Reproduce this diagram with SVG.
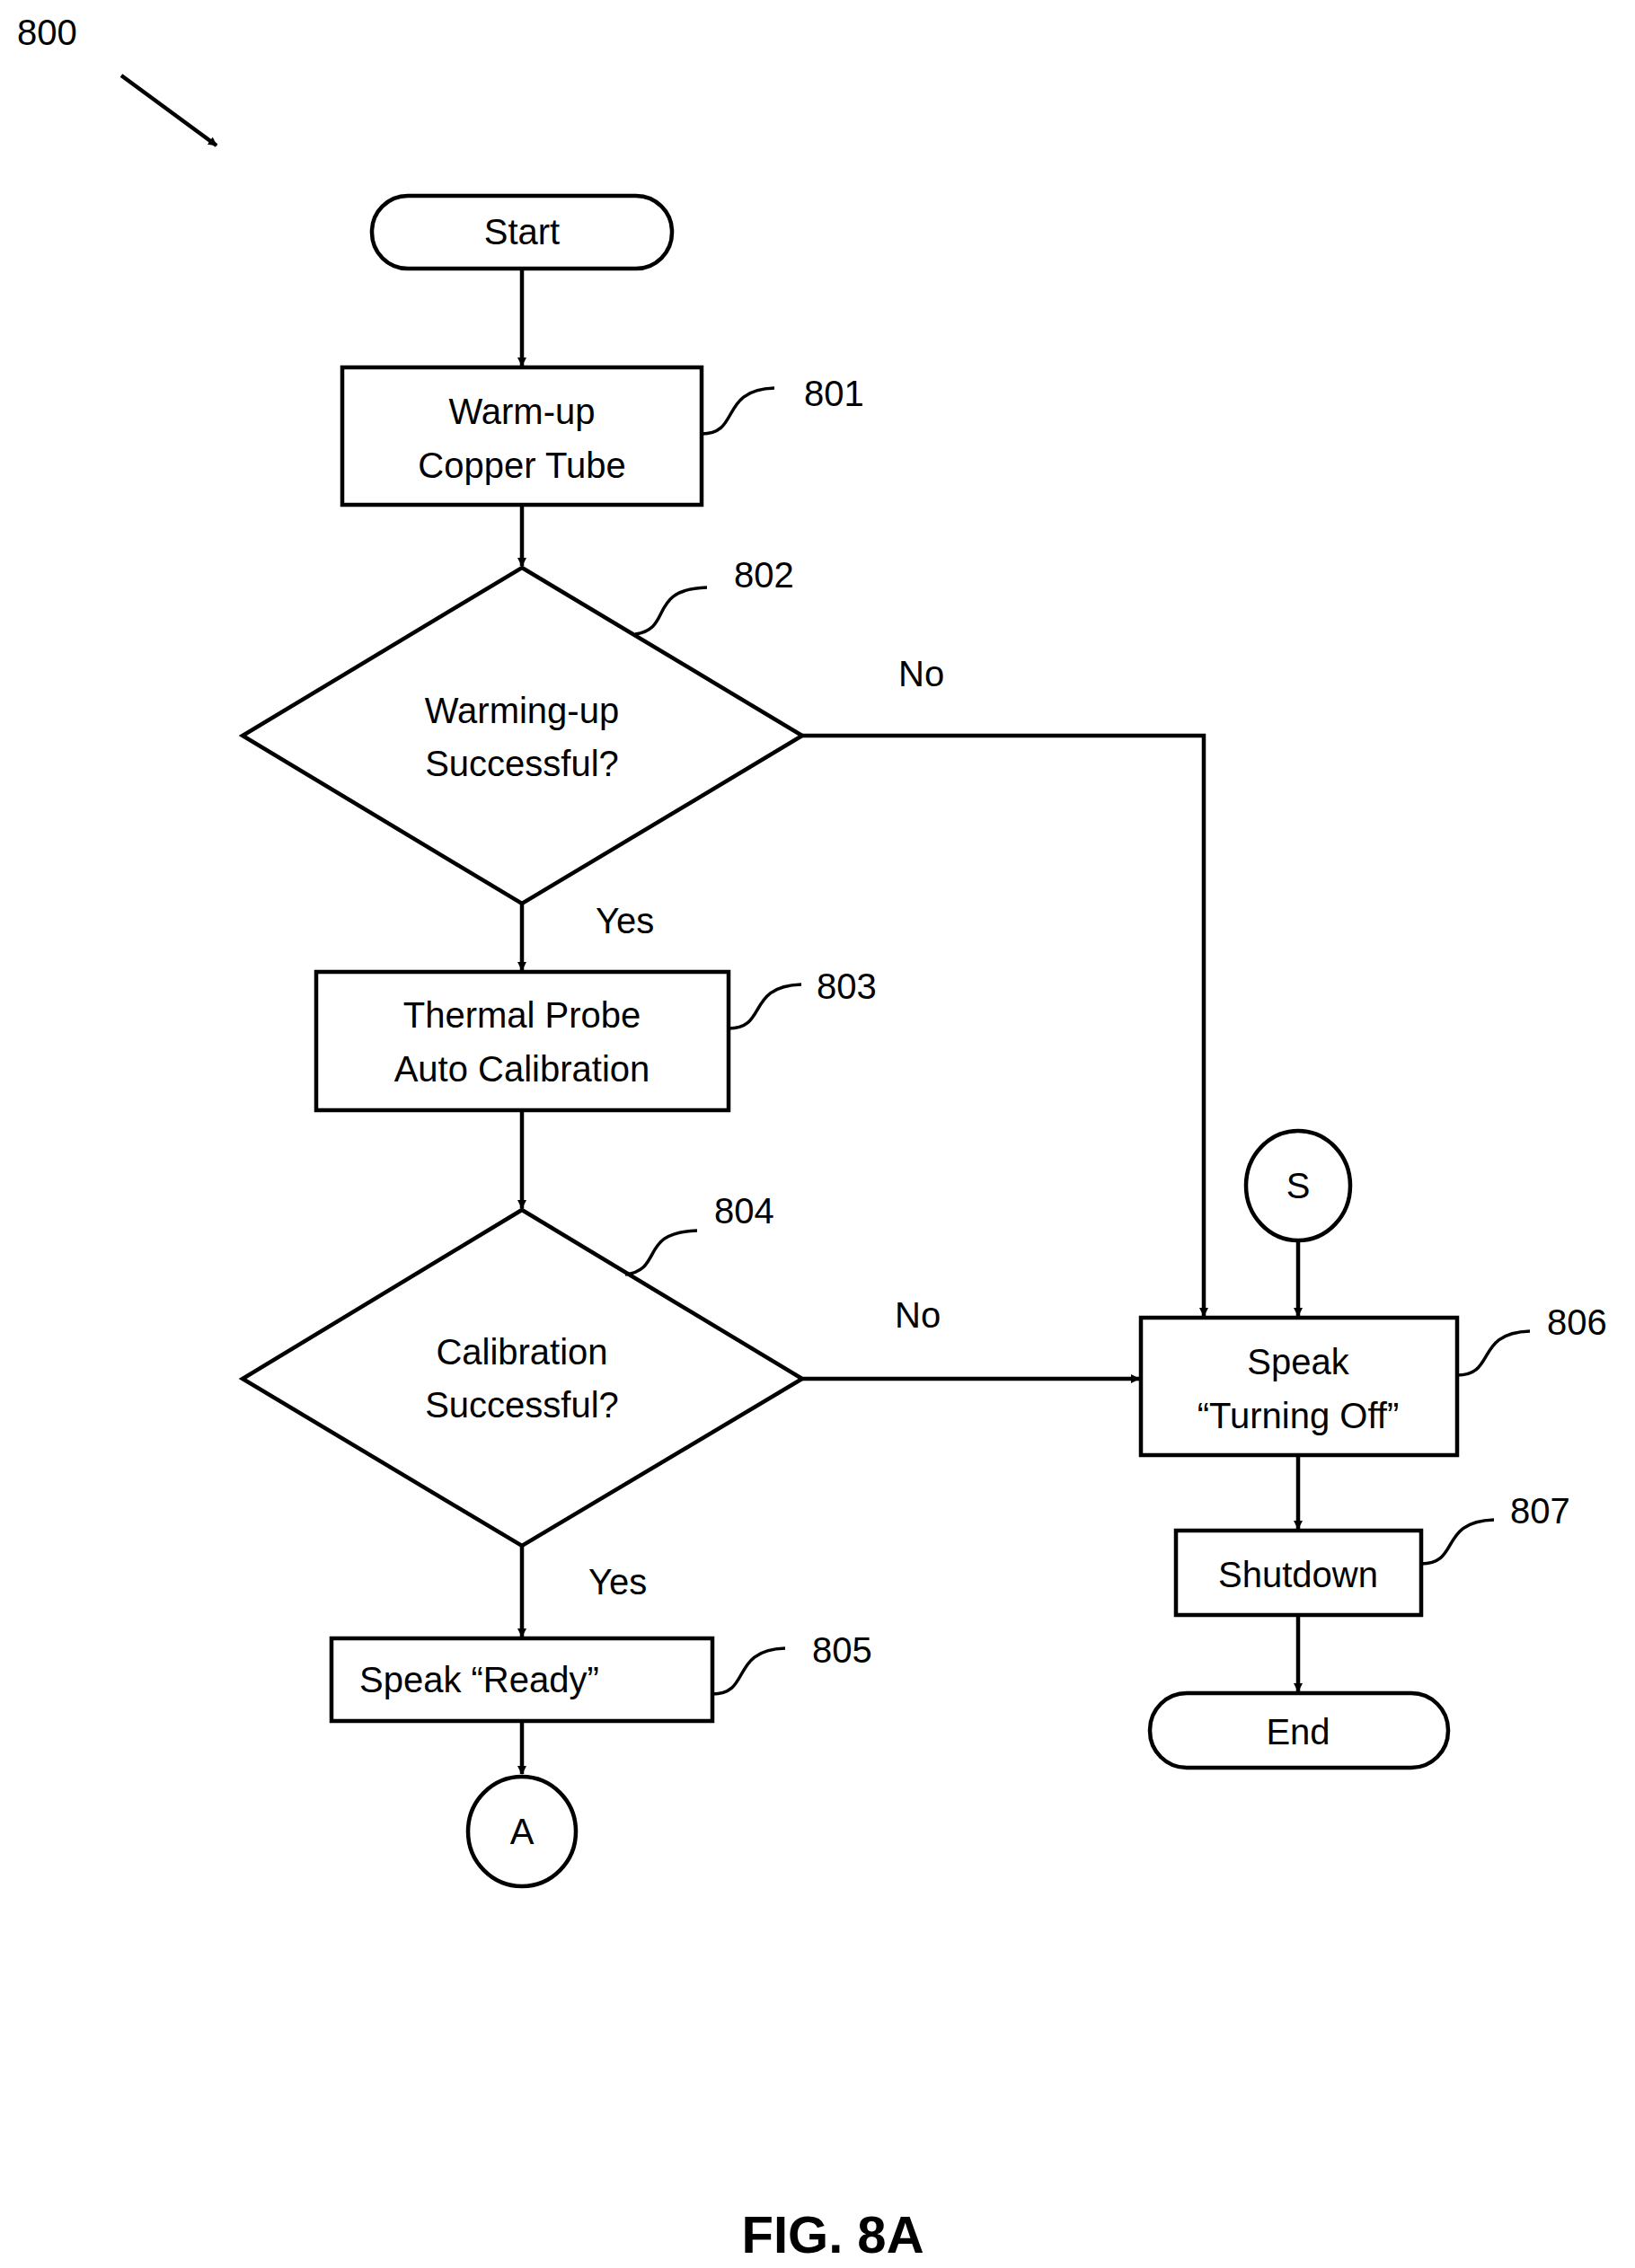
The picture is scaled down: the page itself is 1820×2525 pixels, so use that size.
<svg xmlns="http://www.w3.org/2000/svg" width="1820" height="2525" viewBox="0 0 1820 2525">
<defs>
<marker id="ah" markerWidth="10" markerHeight="10" refX="9" refY="5" orient="auto" markerUnits="userSpaceOnUse" viewBox="0 0 10 10"><path d="M0,0 L10,5 L0,10 z" fill="#000"/></marker>
<style>
.s{fill:#fff;stroke:#000;stroke-width:4.5}
.t{font-family:"Liberation Sans",Arial,sans-serif;font-size:40px;text-anchor:middle;fill:#000}
.l{font-family:"Liberation Sans",Arial,sans-serif;font-size:40px;fill:#000}
.c{fill:none;stroke:#000;stroke-width:4.5}
.q{fill:none;stroke:#000;stroke-width:3.5}
</style>
</defs>
<rect width="1820" height="2525" fill="#fff"/>
<text class="l" x="19" y="50">800</text>
<line x1="135" y1="84" x2="241" y2="162" class="c" stroke-width="4" marker-end="url(#ah)"/>
<g id="connectors">
<line x1="581" y1="299" x2="581" y2="407" class="c" marker-end="url(#ah)"/>
<line x1="581" y1="562" x2="581" y2="630" class="c" marker-end="url(#ah)"/>
<line x1="581" y1="1006" x2="581" y2="1080" class="c" marker-end="url(#ah)"/>
<line x1="581" y1="1236" x2="581" y2="1345" class="c" marker-end="url(#ah)"/>
<line x1="581" y1="1721" x2="581" y2="1822" class="c" marker-end="url(#ah)"/>
<line x1="581" y1="1916" x2="581" y2="1975" class="c" marker-end="url(#ah)"/>
<polyline points="893,819 1340,819 1340,1465" class="c" marker-end="url(#ah)"/>
<line x1="893" y1="1535" x2="1268" y2="1535" class="c" marker-end="url(#ah)"/>
<line x1="1445" y1="1381" x2="1445" y2="1465" class="c" marker-end="url(#ah)"/>
<line x1="1445" y1="1620" x2="1445" y2="1702" class="c" marker-end="url(#ah)"/>
<line x1="1445" y1="1798" x2="1445" y2="1883" class="c" marker-end="url(#ah)"/>
<text class="l" x="1000" y="764">No</text>
<text class="l" x="663" y="1039">Yes</text>
<text class="l" x="996" y="1478">No</text>
<text class="l" x="655" y="1775">Yes</text>
</g>
<g id="start"><rect x="414" y="218" width="334" height="81" rx="40" class="s"/><text class="t" x="581" y="272">Start</text></g>
<g id="n801"><rect x="381" y="409" width="400" height="153" class="s"/><text class="t" x="581" y="472">Warm-up</text><text class="t" x="581" y="532">Copper Tube</text>
<path d="M781,483 C825,483 800,434 862,432" class="q"/><text class="l" x="895" y="452">801</text></g>
<g id="n802"><polygon points="581,632 893,819 581,1006 270,819" class="s"/><text class="t" x="581" y="805">Warming-up</text><text class="t" x="581" y="864">Successful?</text>
<path d="M707,706 C750,700 720,656 787,654" class="q"/><text class="l" x="817" y="654">802</text></g>
<g id="n803"><rect x="352" y="1082" width="459" height="154" class="s"/><text class="t" x="581" y="1144">Thermal Probe</text><text class="t" x="581" y="1204">Auto Calibration</text>
<path d="M811,1145 C855,1145 830,1098 892,1096" class="q"/><text class="l" x="909" y="1112">803</text></g>
<g id="n804"><polygon points="581,1347 893,1535 581,1721 270,1535" class="s"/><text class="t" x="581" y="1519">Calibration</text><text class="t" x="581" y="1578">Successful?</text>
<path d="M696,1419 C740,1413 710,1372 776,1370" class="q"/><text class="l" x="795" y="1362">804</text></g>
<g id="n805"><rect x="369" y="1824" width="424" height="92" class="s"/><text class="l" x="400" y="1884">Speak “Ready”</text>
<path d="M793,1886 C837,1886 812,1837 874,1835" class="q"/><text class="l" x="904" y="1851">805</text></g>
<g id="a"><ellipse cx="581" cy="2039" rx="60" ry="61" class="s"/><text class="t" x="581" y="2053">A</text></g>
<g id="s"><ellipse cx="1445" cy="1320" rx="58" ry="61" class="s"/><text class="t" x="1445" y="1334">S</text></g>
<g id="n806"><rect x="1270" y="1467" width="352" height="153" class="s"/><text class="t" x="1445" y="1530">Speak</text><text class="t" x="1445" y="1590">“Turning Off”</text>
<path d="M1622,1531 C1666,1531 1641,1484 1703,1482" class="q"/><text class="l" x="1722" y="1486">806</text></g>
<g id="n807"><rect x="1309" y="1704" width="273" height="94" class="s"/><text class="t" x="1445" y="1767">Shutdown</text>
<path d="M1582,1741 C1626,1741 1601,1694 1663,1692" class="q"/><text class="l" x="1681" y="1696">807</text></g>
<g id="end"><rect x="1280" y="1885" width="332" height="83" rx="41" class="s"/><text class="t" x="1445" y="1942">End</text></g>
<text x="927" y="2508" font-family="Liberation Sans,Arial,sans-serif" font-size="58" font-weight="bold" text-anchor="middle">FIG. 8A</text>
</svg>
